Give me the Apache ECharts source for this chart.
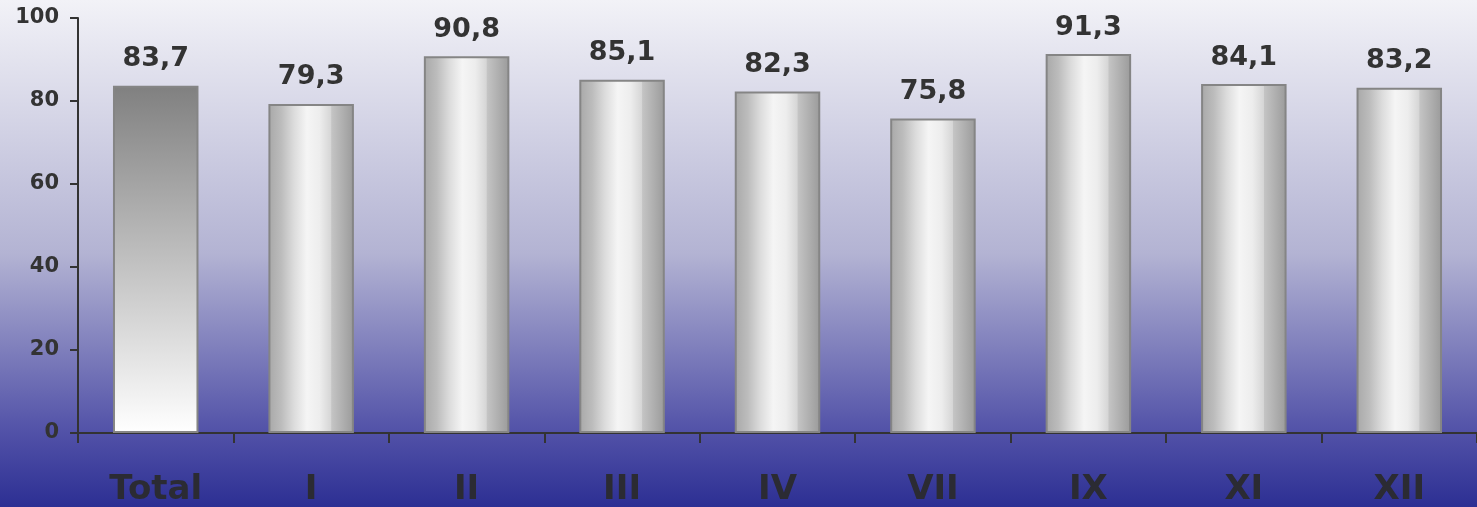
<!DOCTYPE html>
<html>
<head>
<meta charset="utf-8">
<script src="https://cdn.jsdelivr.net/npm/echarts@6/dist/echarts.min.js"></script>
<style>
html,body{margin:0;padding:0;}
#c{width:1477px;height:507px;}
</style>
</head>
<body>
<div id="c"></div>
<script>
const categories = ['Total','I','II','III','IV','VII','IX','XI','XII'];
const values = [83.7, 79.3, 90.8, 85.1, 82.3, 75.8, 91.3, 84.1, 83.2];
const yTicks = [0, 20, 40, 60, 80, 100];

const cylinder = {
  type: 'linear', x: 0, y: 0, x2: 1, y2: 0,
  colorStops: [
    {offset: 0, color: '#a8a8a8'},
    {offset: 0.15, color: '#bcbcbc'},
    {offset: 0.3, color: '#dcdcdc'},
    {offset: 0.45, color: '#f5f5f5'},
    {offset: 0.6, color: '#ededed'},
    {offset: 0.73, color: '#d6d6d6'},
    {offset: 0.74, color: '#c4c4c4'},
    {offset: 1, color: '#9a9a9a'}
  ]
};
const totalGrad = {
  type: 'linear', x: 0, y: 0, x2: 0, y2: 1,
  colorStops: [
    {offset: 0, color: '#808080'},
    {offset: 1, color: '#ffffff'}
  ]
};

const chart = echarts.init(document.getElementById('c'));
chart.setOption({
  animation: false,
  backgroundColor: {
    type: 'linear', x: 0, y: 0, x2: 0, y2: 1,
    colorStops: [
      {offset: 0, color: '#f2f2f7'},
      {offset: 0.5, color: '#b3b3d3'},
      {offset: 0.85, color: '#5252a8'},
      {offset: 1, color: '#2c2f93'}
    ]
  },
  grid: {left: 78, top: 18, width: 1400, height: 415},
  xAxis: {
    type: 'category',
    data: categories,
    axisLine: {lineStyle: {color: '#333', width: 2}},
    axisTick: {show: true, length: 10, lineStyle: {color: '#333', width: 2}},
    axisLabel: {color: '#2b2b33', fontSize: 34, fontWeight: 'bold', fontFamily: 'DejaVu Sans', margin: 40}
  },
  yAxis: {
    type: 'value',
    min: yTicks[0], max: yTicks[yTicks.length - 1], interval: 20,
    splitLine: {show: false},
    axisLine: {show: true, lineStyle: {color: '#333', width: 2}},
    axisTick: {show: true, length: 8, lineStyle: {color: '#333', width: 2}},
    axisLabel: {color: '#333', fontSize: 21, fontWeight: 'bold', fontFamily: 'DejaVu Sans', margin: 19}
  },
  series: [{
    type: 'bar',
    barWidth: '55%',
    data: values.map((v, i) => ({
      value: v,
      itemStyle: {color: i === 0 ? totalGrad : cylinder, borderColor: '#858585', borderWidth: 2}
    })),
    label: {
      show: true, position: 'top', distance: 13,
      color: '#333', fontSize: 27, fontWeight: 'bold', fontFamily: 'DejaVu Sans',
      formatter: p => p.value.toFixed(1).replace('.', ',')
    }
  }]
});
</script>
</body>
</html>
